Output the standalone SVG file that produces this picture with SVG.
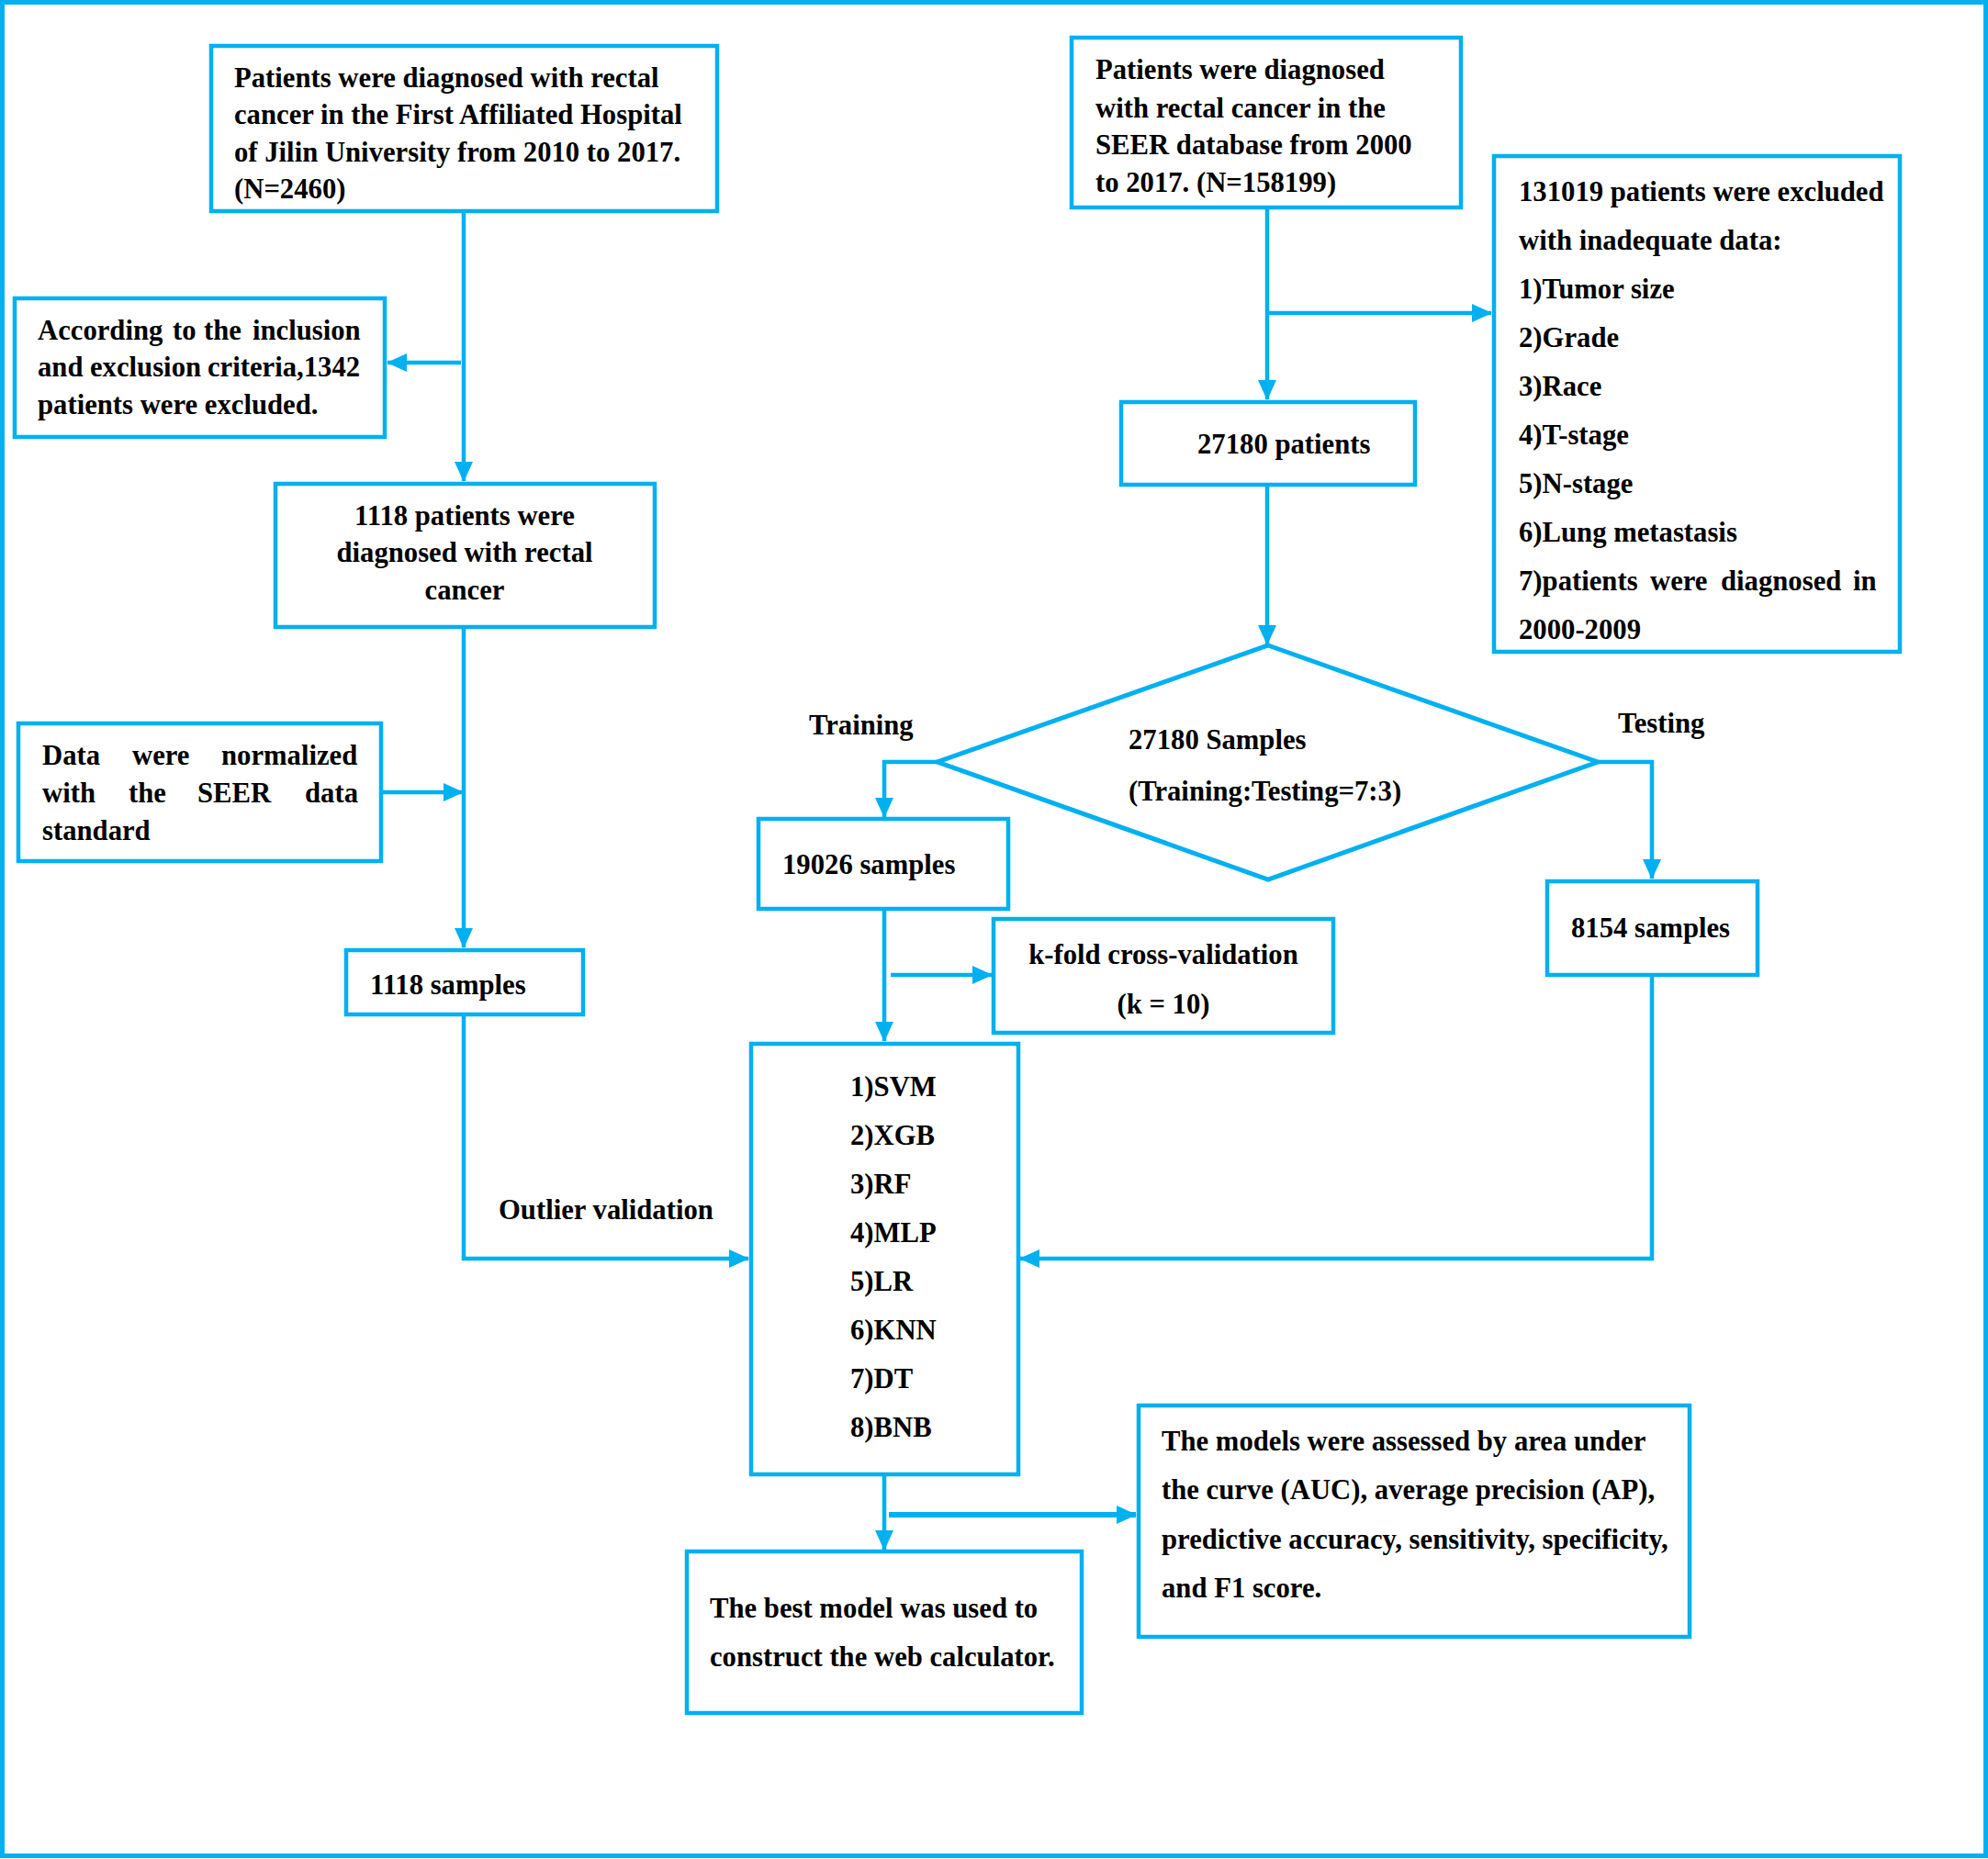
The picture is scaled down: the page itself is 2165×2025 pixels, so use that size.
<svg xmlns="http://www.w3.org/2000/svg" width="2165" height="2025" viewBox="0 0 2165 2025">
<style>
.box{fill:#fff;stroke:#00B0F0;stroke-width:4.5}
.ln{fill:none;stroke:#00B0F0;stroke-width:4.5}
text{font-family:"Liberation Serif","Times New Roman",serif;font-weight:bold;font-size:30.7px;fill:#000}
.c{text-anchor:middle}
</style>
<defs>
<marker id="ah" viewBox="0 0 22 20" refX="21" refY="10" markerWidth="22" markerHeight="20" markerUnits="userSpaceOnUse" orient="auto">
<path d="M0,0 L22,10 L0,20 Z" fill="#00B0F0"/>
</marker>
</defs>
<rect x="2.5" y="2.5" width="2160" height="2019" fill="#fff" stroke="#00B0F0" stroke-width="5"/>

<g id="connectors">
<path class="ln" d="M505,232 V524" marker-end="url(#ah)"/>
<path class="ln" d="M502,395 H422" marker-end="url(#ah)"/>
<path class="ln" d="M505,685 V1032" marker-end="url(#ah)"/>
<path class="ln" d="M417,863 H504" marker-end="url(#ah)"/>
<path class="ln" d="M505,1107 V1371 H815" marker-end="url(#ah)"/>
<path class="ln" d="M1380,228 V435" marker-end="url(#ah)"/>
<path class="ln" d="M1380,341 H1624" marker-end="url(#ah)"/>
<path class="ln" d="M1380,529 V702" marker-end="url(#ah)"/>
<path class="ln" d="M1021,830 H963 V890" marker-end="url(#ah)"/>
<path class="ln" d="M1740,830 H1799 V957" marker-end="url(#ah)"/>
<path class="ln" d="M963,991 V1134" marker-end="url(#ah)"/>
<path class="ln" d="M970,1062 H1080" marker-end="url(#ah)"/>
<path class="ln" d="M1799,1063 V1371 H1111" marker-end="url(#ah)"/>
<path class="ln" d="M963,1607 V1688" marker-end="url(#ah)"/>
<path class="ln" style="stroke-width:6" d="M968,1650 H1237" marker-end="url(#ah)"/>
</g>

<g id="box1">
<rect class="box" x="230" y="50" width="551" height="180"/>
<text x="255" y="95">Patients were diagnosed with rectal</text>
<text x="255" y="135">cancer in the First Affiliated Hospital</text>
<text x="255" y="176">of Jilin University from 2010 to 2017.</text>
<text x="255" y="216">(N=2460)</text>
</g>

<g id="excluded1342">
<rect class="box" x="16" y="325" width="403" height="151"/>
<text y="370"><tspan x="41">According</tspan><tspan x="188">to</tspan><tspan x="222">the</tspan><tspan x="275">inclusion</tspan></text>
<text y="410"><tspan x="41">and</tspan><tspan x="98">exclusion</tspan><tspan x="226">criteria,1342</tspan></text>
<text x="41" y="451">patients were excluded.</text>
</g>

<g id="patients1118">
<rect class="box" x="300" y="527" width="413" height="156"/>
<text class="c" x="506" y="572">1118 patients were</text>
<text class="c" x="506" y="612">diagnosed with rectal</text>
<text class="c" x="506" y="653">cancer</text>
</g>

<g id="normalized">
<rect class="box" x="20" y="788" width="395" height="150"/>
<text y="833"><tspan x="46">Data</tspan><tspan x="144">were</tspan><tspan x="241">normalized</tspan></text>
<text y="874"><tspan x="46">with</tspan><tspan x="140">the</tspan><tspan x="215">SEER</tspan><tspan x="332">data</tspan></text>
<text x="46" y="915">standard</text>
</g>

<g id="samples1118">
<rect class="box" x="377" y="1035" width="258" height="70"/>
<text x="403" y="1083">1118 samples</text>
</g>

<g id="outlier-label">
<text x="543" y="1328">Outlier validation</text>
</g>

<g id="seer">
<rect class="box" x="1167" y="41" width="424" height="185"/>
<text x="1193" y="86">Patients were diagnosed</text>
<text x="1193" y="128">with rectal cancer in the</text>
<text x="1193" y="168">SEER database from 2000</text>
<text x="1193" y="209">to 2017. (N=158199)</text>
</g>

<g id="excluded131019">
<rect class="box" x="1627" y="170" width="442" height="540"/>
<text x="1654" y="219">131019 patients were excluded</text>
<text x="1654" y="272">with inadequate data:</text>
<text x="1654" y="325">1)Tumor size</text>
<text x="1654" y="378">2)Grade</text>
<text x="1654" y="431">3)Race</text>
<text x="1654" y="484">4)T-stage</text>
<text x="1654" y="537">5)N-stage</text>
<text x="1654" y="590">6)Lung metastasis</text>
<text y="643"><tspan x="1654">7)patients</tspan><tspan x="1797">were</tspan><tspan x="1874">diagnosed</tspan><tspan x="2018">in</tspan></text>
<text x="1654" y="696">2000-2009</text>
</g>

<g id="patients27180">
<rect class="box" x="1221" y="438" width="320" height="90"/>
<text x="1304" y="494">27180 patients</text>
</g>

<g id="split">
<polygon class="box" style="stroke-width:5" points="1381,703 1740,830 1381,958 1021,830"/>
<text x="1229" y="816">27180 Samples</text>
<text x="1229" y="872">(Training:Testing=7:3)</text>
</g>

<g id="labels">
<text x="881" y="800">Training</text>
<text x="1762" y="798">Testing</text>
</g>

<g id="samples19026">
<rect class="box" x="826" y="892" width="272" height="98"/>
<text x="852" y="952">19026 samples</text>
</g>

<g id="samples8154">
<rect class="box" x="1685" y="960" width="229" height="102"/>
<text x="1711" y="1021">8154 samples</text>
</g>

<g id="kfold">
<rect class="box" x="1082" y="1001" width="370" height="124"/>
<text class="c" x="1267" y="1050">k-fold cross-validation</text>
<text class="c" x="1267" y="1104">(k = 10)</text>
</g>

<g id="models">
<rect class="box" x="818" y="1137" width="291" height="469"/>
<text x="926" y="1194">1)SVM</text>
<text x="926" y="1247">2)XGB</text>
<text x="926" y="1300">3)RF</text>
<text x="926" y="1353">4)MLP</text>
<text x="926" y="1406">5)LR</text>
<text x="926" y="1459">6)KNN</text>
<text x="926" y="1512">7)DT</text>
<text x="926" y="1565">8)BNB</text>
</g>

<g id="best">
<rect class="box" x="748" y="1690" width="430" height="176"/>
<text x="773" y="1762">The best model was used to</text>
<text x="773" y="1815">construct the web calculator.</text>
</g>

<g id="assessed">
<rect class="box" x="1240" y="1531" width="600" height="252"/>
<text x="1265" y="1580">The models were assessed by area under</text>
<text x="1265" y="1633">the curve (AUC), average precision (AP),</text>
<text x="1265" y="1687">predictive accuracy, sensitivity, specificity,</text>
<text x="1265" y="1740">and F1 score.</text>
</g>
</svg>
